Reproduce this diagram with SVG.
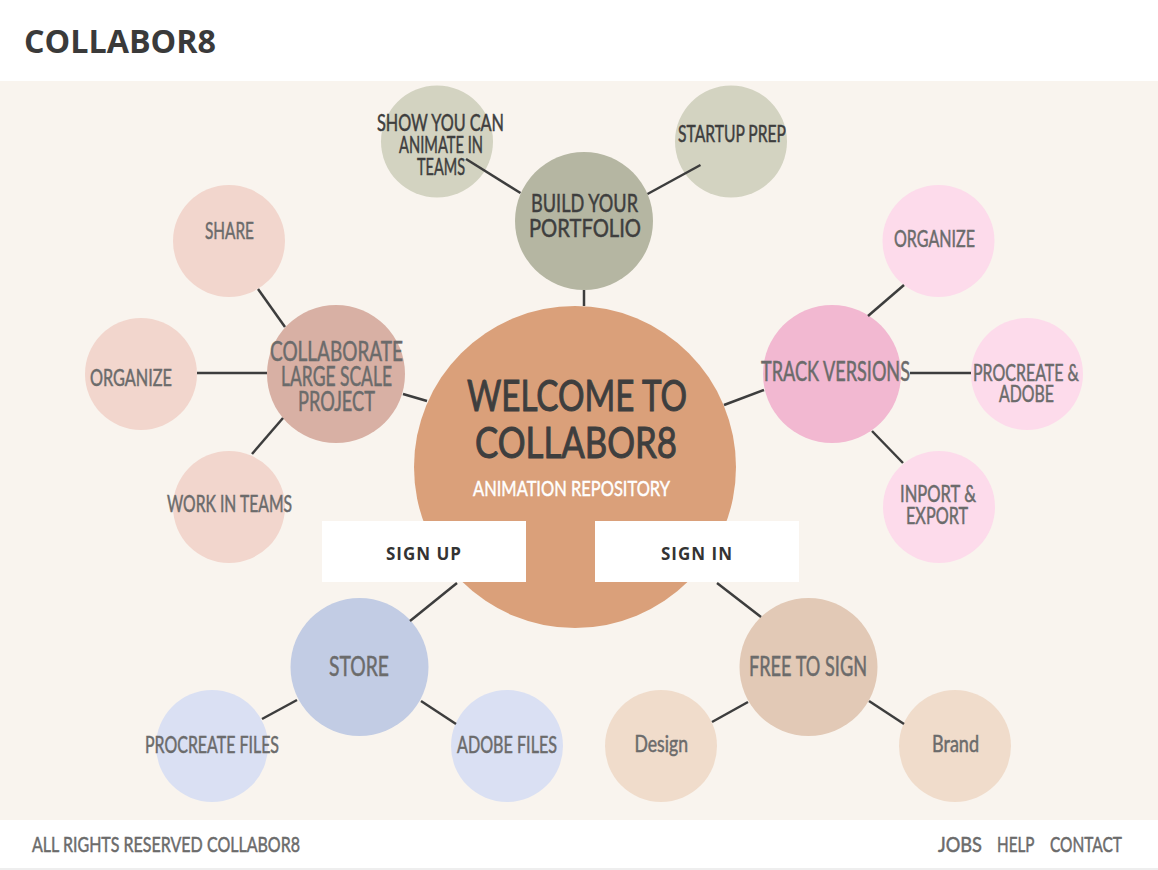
<svg xmlns="http://www.w3.org/2000/svg" width="1158" height="870" viewBox="0 0 1158 870">
<style>
.t{font-family:Lato,"Liberation Sans",sans-serif;fill:#6b6b6b;stroke:#6b6b6b;stroke-width:0.5px;font-size:23px}
.d{fill:#3e3e3e;stroke:#3e3e3e}
.b{font-size:26px}
.w{font-family:Lato,"Liberation Sans",sans-serif;fill:#3e3e3e;stroke:#3e3e3e;stroke-width:1px;font-size:43px}
.btn{font-family:"Open Sans","Liberation Sans",sans-serif;font-weight:bold;font-size:17px;fill:#333;letter-spacing:1px}
.ln{stroke:#3d3d3d;stroke-width:2.5;fill:none}
</style>
<rect x="0" y="0" width="1158" height="870" fill="#ffffff"/>
<rect x="0" y="81" width="1158" height="739" fill="#f9f4ee"/>
<line x1="0" y1="869" x2="1158" y2="869" stroke="#e9e9e9" stroke-width="1.5"/>
<text x="24" y="53" font-family="'Open Sans','Liberation Sans',sans-serif" font-weight="bold" font-size="33" fill="#3a3a3a" textLength="192" lengthAdjust="spacingAndGlyphs">COLLABOR8</text>

<g id="n-center">
<circle cx="575" cy="467" r="161" fill="#daa07a"/>
<text class="w" x="467" y="411" textLength="220" lengthAdjust="spacingAndGlyphs">WELCOME TO</text>
<text class="w" x="475" y="458" textLength="202" lengthAdjust="spacingAndGlyphs">COLLABOR8</text>
<text class="t" x="473" y="496" style="fill:#ffffff;stroke:#ffffff;font-size:22px" textLength="197" lengthAdjust="spacingAndGlyphs">ANIMATION REPOSITORY</text>
</g>
<g id="n-signup">
<rect x="322" y="521" width="204" height="61" fill="#ffffff"/>
<text class="btn" x="424" y="560" text-anchor="middle">SIGN UP</text>
</g>
<g id="n-signin">
<rect x="595" y="521" width="204" height="61" fill="#ffffff"/>
<text class="btn" x="697" y="560" text-anchor="middle">SIGN IN</text>
</g>

<g id="n-build">
<circle cx="584" cy="221" r="69" fill="#b5b6a2"/>
<text class="t d" x="531" y="212" style="font-size:25px" textLength="107" lengthAdjust="spacingAndGlyphs">BUILD YOUR</text>
<text class="t d" x="529" y="237" style="font-size:25px" textLength="112" lengthAdjust="spacingAndGlyphs">PORTFOLIO</text>
</g>
<g id="n-show">
<circle cx="437" cy="141.5" r="56" fill="#d3d3c1"/>
<text class="t d" x="377" y="131" textLength="127" lengthAdjust="spacingAndGlyphs">SHOW YOU CAN</text>
<text class="t d" x="399" y="153" textLength="84" lengthAdjust="spacingAndGlyphs">ANIMATE IN</text>
<text class="t d" x="417" y="175" textLength="48" lengthAdjust="spacingAndGlyphs">TEAMS</text>
</g>
<g id="n-startup">
<circle cx="731" cy="141.5" r="56" fill="#d3d3c1"/>
<text class="t d" x="678" y="142" textLength="108" lengthAdjust="spacingAndGlyphs">STARTUP PREP</text>
</g>

<g id="n-collab">
<circle cx="336" cy="374" r="69" fill="#d8b0a4"/>
<text class="t b" x="270" y="361" textLength="133" lengthAdjust="spacingAndGlyphs">COLLABORATE</text>
<text class="t b" x="281" y="386" textLength="111" lengthAdjust="spacingAndGlyphs">LARGE SCALE</text>
<text class="t b" x="298" y="411" textLength="77" lengthAdjust="spacingAndGlyphs">PROJECT</text>
</g>
<g id="n-share">
<circle cx="229" cy="241" r="56" fill="#f2d6cd"/>
<text class="t" x="205" y="239" textLength="49" lengthAdjust="spacingAndGlyphs">SHARE</text>
</g>
<g id="n-organize-l">
<circle cx="141" cy="374" r="56" fill="#f2d6cd"/>
<text class="t" x="90" y="386" textLength="82" lengthAdjust="spacingAndGlyphs">ORGANIZE</text>
</g>
<g id="n-work">
<circle cx="229" cy="507" r="56" fill="#f2d6cd"/>
<text class="t" x="167" y="512" textLength="125" lengthAdjust="spacingAndGlyphs">WORK IN TEAMS</text>
</g>

<g id="n-track">
<circle cx="832" cy="374" r="69" fill="#f2b8d1"/>
<text class="t b" x="761" y="381" textLength="149" lengthAdjust="spacingAndGlyphs">TRACK VERSIONS</text>
</g>
<g id="n-organize-r">
<circle cx="938.5" cy="241" r="56" fill="#fddbeb"/>
<text class="t" x="894" y="247" textLength="81" lengthAdjust="spacingAndGlyphs">ORGANIZE</text>
</g>
<g id="n-procreate">
<circle cx="1027" cy="374" r="56" fill="#fddbeb"/>
<text class="t" x="973" y="381" textLength="106" lengthAdjust="spacingAndGlyphs">PROCREATE &amp;</text>
<text class="t" x="999" y="402" textLength="55" lengthAdjust="spacingAndGlyphs">ADOBE</text>
</g>
<g id="n-inport">
<circle cx="939" cy="507" r="56" fill="#fddbeb"/>
<text class="t" x="900" y="502" textLength="76" lengthAdjust="spacingAndGlyphs">INPORT &amp;</text>
<text class="t" x="906" y="524" textLength="62" lengthAdjust="spacingAndGlyphs">EXPORT</text>
</g>

<g id="n-store">
<circle cx="359.5" cy="667" r="69" fill="#c2cce4"/>
<text class="t b" x="329" y="676" textLength="60" lengthAdjust="spacingAndGlyphs">STORE</text>
</g>
<g id="n-procfiles">
<circle cx="212" cy="746" r="56" fill="#dae0f3"/>
<text class="t" x="145" y="753" textLength="134" lengthAdjust="spacingAndGlyphs">PROCREATE FILES</text>
</g>
<g id="n-adobefiles">
<circle cx="507" cy="746" r="56" fill="#dae0f3"/>
<text class="t" x="457" y="753" textLength="100" lengthAdjust="spacingAndGlyphs">ADOBE FILES</text>
</g>

<g id="n-free">
<circle cx="808.5" cy="667" r="69" fill="#e2c9b6"/>
<text class="t b" x="749" y="676" textLength="118" lengthAdjust="spacingAndGlyphs">FREE TO SIGN</text>
</g>
<g id="n-design">
<circle cx="661" cy="746" r="56" fill="#f0dccb"/>
<text class="t" x="634.5" y="752" textLength="53.5" lengthAdjust="spacingAndGlyphs">Design</text>
</g>
<g id="n-brand">
<circle cx="955" cy="746" r="56" fill="#f0dccb"/>
<text class="t" x="932" y="752" textLength="47" lengthAdjust="spacingAndGlyphs">Brand</text>
</g>

<g id="connectors">
<line class="ln" x1="584" y1="290" x2="584" y2="306"/>
<line class="ln" x1="466" y1="159" x2="520.5" y2="193"/>
<line class="ln" x1="647.5" y1="194" x2="700.5" y2="165"/>
<line class="ln" x1="403" y1="394" x2="427" y2="401"/>
<line class="ln" x1="258" y1="289" x2="285" y2="327"/>
<line class="ln" x1="197" y1="373" x2="267" y2="373"/>
<line class="ln" x1="283" y1="418" x2="252" y2="454"/>
<line class="ln" x1="724" y1="405" x2="764" y2="390"/>
<line class="ln" x1="868" y1="316" x2="904" y2="285"/>
<line class="ln" x1="910" y1="373" x2="971" y2="373"/>
<line class="ln" x1="872" y1="431" x2="903" y2="463"/>
<line class="ln" x1="410" y1="621" x2="457" y2="583"/>
<line class="ln" x1="297" y1="700" x2="262" y2="719"/>
<line class="ln" x1="421" y1="701" x2="456" y2="724"/>
<line class="ln" x1="717" y1="583" x2="761" y2="617"/>
<line class="ln" x1="748" y1="702" x2="712" y2="722"/>
<line class="ln" x1="869" y1="701" x2="904" y2="724"/>
</g>

<g id="footer">
<text class="t" x="32" y="852" style="font-size:22px" textLength="268" lengthAdjust="spacingAndGlyphs">ALL RIGHTS RESERVED COLLABOR8</text>
<text class="t" x="938" y="852" style="font-size:22px" textLength="44" lengthAdjust="spacingAndGlyphs">JOBS</text>
<text class="t" x="997" y="852" style="font-size:22px" textLength="37.5" lengthAdjust="spacingAndGlyphs">HELP</text>
<text class="t" x="1050" y="852" style="font-size:22px" textLength="72" lengthAdjust="spacingAndGlyphs">CONTACT</text>
</g>
</svg>
